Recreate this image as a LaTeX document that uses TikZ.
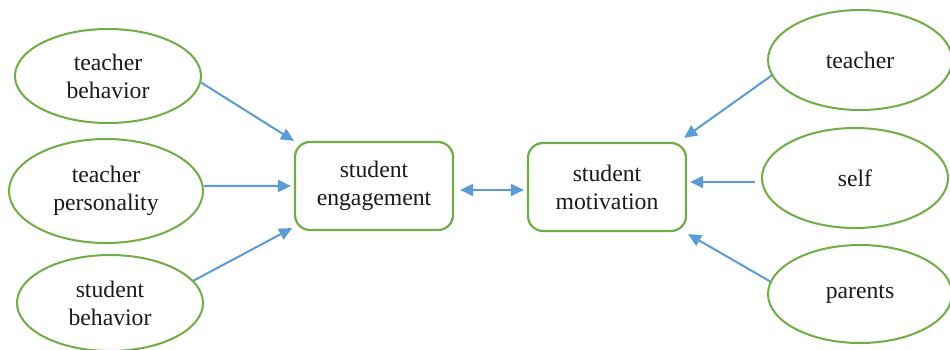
\documentclass[tikz,border=0pt]{standalone}
\usepackage{fontspec}
\setmainfont{Liberation Serif}
\usetikzlibrary{shapes.geometric,arrows.meta}
\definecolor{leafgreen}{HTML}{70AD47}
\definecolor{linkblue}{HTML}{5B9BD5}
\definecolor{inktext}{HTML}{1A1A1A}
\begin{document}
\begin{tikzpicture}[x=1pt,y=-1pt,
  txt/.style={text=inktext,align=center,inner sep=0pt,
    font={\fontsize{23.7pt}{28pt}\selectfont}},
  factor/.style={txt,ellipse,draw=leafgreen,line width=2pt},
  core/.style={txt,rectangle,rounded corners=15pt,draw=leafgreen,line width=2.2pt,
    minimum width=158pt,minimum height=88pt},
  tip/.style={Triangle[length=13pt,width=12pt]},
  link/.style={draw=linkblue,line width=2pt,-{Triangle[length=13pt,width=12pt]}},
  both/.style={link,{Triangle[length=13pt,width=12pt]}-{Triangle[length=13pt,width=12pt]}}]
\clip (0,0) rectangle (950,349);
\fill[white] (0,0) rectangle (950,349);

% central constructs
\node[core] (se) at (374,186) {student\\engagement};
\node[core] (sm) at (607,187) {student\\motivation};

% antecedents of engagement
\node[factor,minimum width=186pt,minimum height=94pt]  (tb) at (108,76)  {teacher\\behavior};
\node[factor,minimum width=194pt,minimum height=104pt] (tp) at (106,191) {teacher\\personality};
\node[factor,minimum width=186pt,minimum height=96pt]  (sb) at (110,303) {student\\behavior};

% sources of motivation
\node[factor,minimum width=184pt,minimum height=100pt] (t) at (860,60)  {teacher};
\node[factor,minimum width=186pt,minimum height=100pt] (s) at (855,178) {self};
\node[factor,minimum width=184pt,minimum height=98pt]  (p) at (860,294) {parents};

% influences on engagement
\draw[link] (tb.-4) -- (se.north west);
\draw[link,shorten >=3pt] (tp.3) -- ([yshift=0pt]se.west);
\draw[link,shorten >=2pt] (sb.15) -- ([yshift=4pt]se.south west);

% reciprocal relation
\draw[both,shorten <=6pt,shorten >=3pt] ([yshift=-4pt]se.east) -- ([yshift=-3pt]sm.west);

% influences on motivation
\draw[link] (t.190) -- ([shift={(-3pt,4pt)}]sm.north east);
\draw[link,shorten <=6pt,shorten >=3pt] ([yshift=-4pt]s.west) -- ([yshift=5pt]sm.east);
\draw[link] (p.172) -- ([shift={(1pt,-2pt)}]sm.south east);
\end{tikzpicture}
\end{document}
